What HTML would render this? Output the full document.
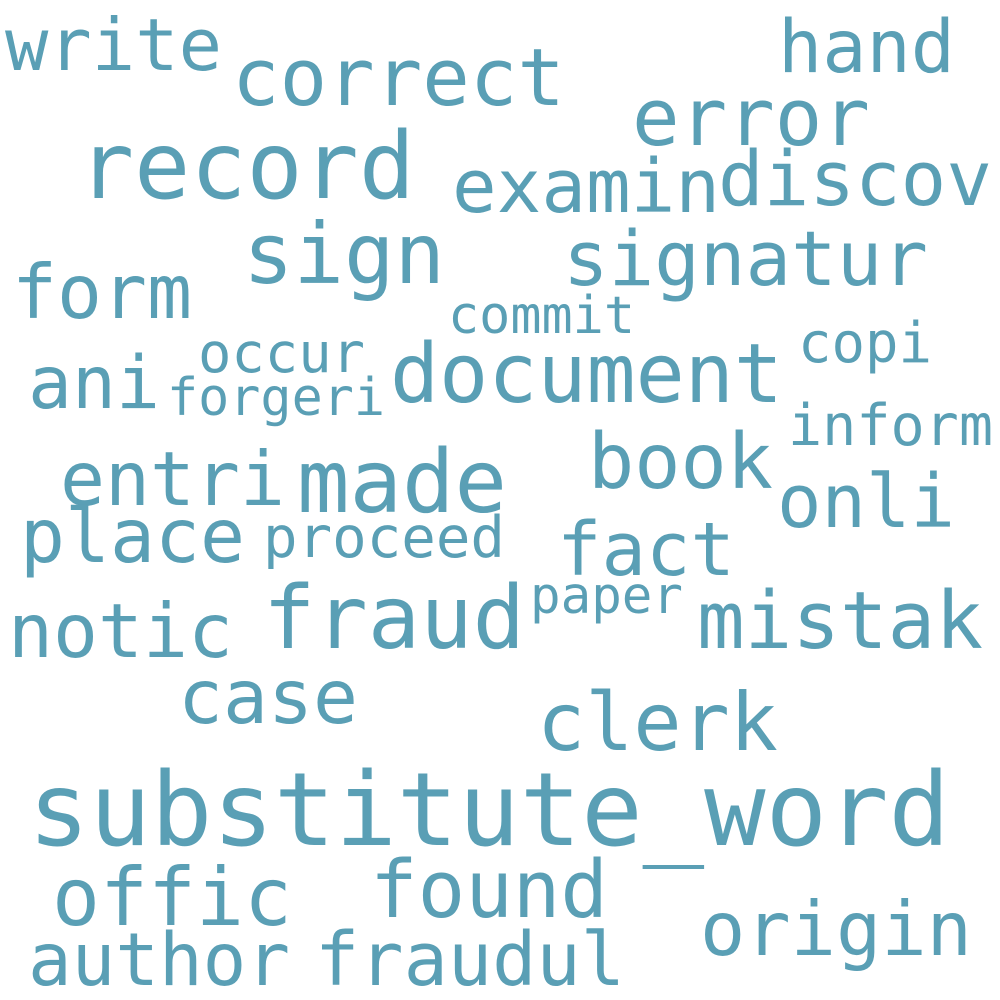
<!DOCTYPE html>
<html><head><meta charset="utf-8"><style>
html,body{margin:0;padding:0;background:#fff;width:1000px;height:1000px;overflow:hidden}
svg text{font-family:"DejaVu Sans Mono","Liberation Mono",monospace;fill:#5a9fb5}
</style></head><body>
<svg width="1000" height="1000" xmlns="http://www.w3.org/2000/svg">
<text x="5" y="70" font-size="72" textLength="217" lengthAdjust="spacingAndGlyphs">write</text>
<text x="232" y="105" font-size="79" textLength="333" lengthAdjust="spacingAndGlyphs">correct</text>
<text x="778" y="72" font-size="73" textLength="177" lengthAdjust="spacingAndGlyphs">hand</text>
<text x="78" y="198" font-size="93" textLength="337" lengthAdjust="spacingAndGlyphs">record</text>
<text x="632" y="145" font-size="79" textLength="238" lengthAdjust="spacingAndGlyphs">error</text>
<text x="452" y="212" font-size="74" textLength="268" lengthAdjust="spacingAndGlyphs">examin</text>
<text x="718" y="205" font-size="76" textLength="274" lengthAdjust="spacingAndGlyphs">discov</text>
<text x="243" y="283" font-size="84" textLength="202" lengthAdjust="spacingAndGlyphs">sign</text>
<text x="563" y="285" font-size="76" textLength="365" lengthAdjust="spacingAndGlyphs">signatur</text>
<text x="12" y="318" font-size="75" textLength="180" lengthAdjust="spacingAndGlyphs">form</text>
<text x="448" y="333" font-size="52" textLength="187" lengthAdjust="spacingAndGlyphs">commit</text>
<text x="198" y="372" font-size="55" textLength="167" lengthAdjust="spacingAndGlyphs">occur</text>
<text x="798" y="362" font-size="56" textLength="134" lengthAdjust="spacingAndGlyphs">copi</text>
<text x="28" y="408" font-size="73" textLength="132" lengthAdjust="spacingAndGlyphs">ani</text>
<text x="167" y="415" font-size="52" textLength="218" lengthAdjust="spacingAndGlyphs">forgeri</text>
<text x="390" y="402" font-size="82" textLength="393" lengthAdjust="spacingAndGlyphs">document</text>
<text x="788" y="445" font-size="57" textLength="205" lengthAdjust="spacingAndGlyphs">inform</text>
<text x="588" y="488" font-size="77" textLength="185" lengthAdjust="spacingAndGlyphs">book</text>
<text x="60" y="505" font-size="75" textLength="225" lengthAdjust="spacingAndGlyphs">entri</text>
<text x="297" y="512" font-size="87" textLength="210" lengthAdjust="spacingAndGlyphs">made</text>
<text x="777" y="527" font-size="74" textLength="178" lengthAdjust="spacingAndGlyphs">onli</text>
<text x="20" y="562" font-size="75" textLength="225" lengthAdjust="spacingAndGlyphs">place</text>
<text x="263" y="557" font-size="57" textLength="242" lengthAdjust="spacingAndGlyphs">proceed</text>
<text x="557" y="575" font-size="74" textLength="178" lengthAdjust="spacingAndGlyphs">fact</text>
<text x="530" y="613" font-size="51" textLength="153" lengthAdjust="spacingAndGlyphs">paper</text>
<text x="263" y="648" font-size="87" textLength="262" lengthAdjust="spacingAndGlyphs">fraud</text>
<text x="8" y="657" font-size="75" textLength="225" lengthAdjust="spacingAndGlyphs">notic</text>
<text x="697" y="648" font-size="79" textLength="286" lengthAdjust="spacingAndGlyphs">mistak</text>
<text x="178" y="723" font-size="75" textLength="180" lengthAdjust="spacingAndGlyphs">case</text>
<text x="537" y="750" font-size="80" textLength="241" lengthAdjust="spacingAndGlyphs">clerk</text>
<text x="28" y="845" font-size="102" textLength="922" lengthAdjust="spacingAndGlyphs">substitute_word</text>
<text x="52" y="925" font-size="80" textLength="240" lengthAdjust="spacingAndGlyphs">offic</text>
<text x="370" y="917" font-size="79" textLength="238" lengthAdjust="spacingAndGlyphs">found</text>
<text x="700" y="955" font-size="75" textLength="272" lengthAdjust="spacingAndGlyphs">origin</text>
<text x="28" y="985" font-size="73" textLength="262" lengthAdjust="spacingAndGlyphs">author</text>
<text x="315" y="985" font-size="74" textLength="310" lengthAdjust="spacingAndGlyphs">fraudul</text>
</svg>
</body></html>
